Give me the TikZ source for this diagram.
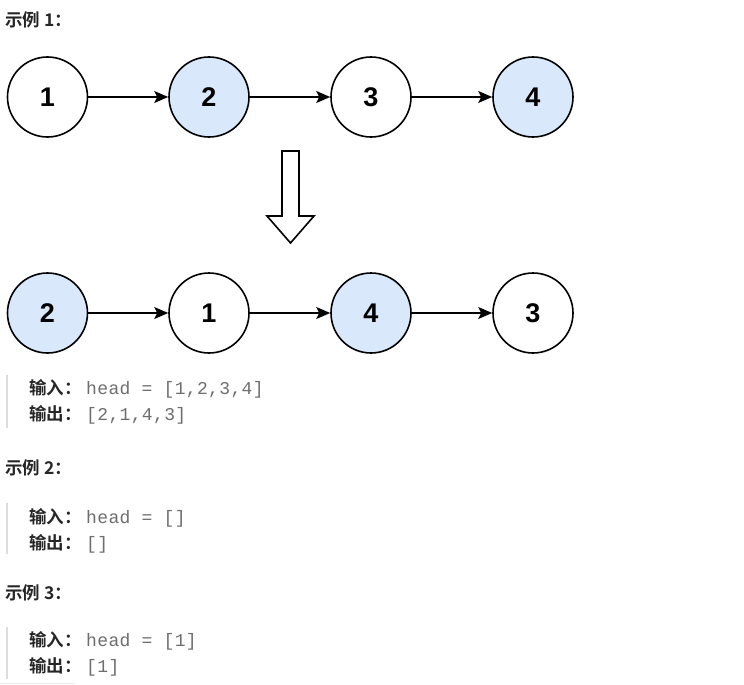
\documentclass[tikz,border=0pt]{standalone}
\usepackage{fontspec}
\setmainfont{Liberation Sans}
\newfontfamily\cjk{Noto Sans CJK SC Bold}
\newfontfamily\monof{Liberation Mono}[LetterSpace=2]
\usetikzlibrary{arrows.meta}
\definecolor{nodeblue}{HTML}{DAE8FC}
\definecolor{txtdark}{HTML}{262626}
\definecolor{codegray}{HTML}{6E6E6E}
\definecolor{bargray}{HTML}{DDDDDD}
\tikzset{
  lnode/.style={circle, draw=black, line width=1.6pt, minimum size=80pt, inner sep=0pt,
    font=\fontsize{27}{30}\selectfont\bfseries},
  bnode/.style={lnode, fill=nodeblue},
  wnode/.style={lnode, fill=white},
  link/.style={line width=1.6pt, -{Stealth[length=14pt,width=12pt,inset=3pt]}},
  head/.style={anchor=mid west, inner sep=0pt, text=txtdark, font=\cjk\fontsize{17.5}{20}\selectfont},
  lbl/.style={anchor=mid west, inner sep=0pt, text=txtdark, font=\cjk\fontsize{17.5}{20}\selectfont},
  code/.style={anchor=mid west, inner sep=0pt, text=codegray, font=\monof\fontsize{18}{20}\selectfont},
  qbar/.style={draw=bargray, line width=2pt}
}
\begin{document}
\begin{tikzpicture}[x=1pt,y=-1pt]
\useasboundingbox (0,0) rectangle (744,685);
\fill[white] (0,0) rectangle (744,685);

\node[head] (h1) at (5,23.5) {示例 1：};

% row 1
\node[wnode] (a1) at (47.5,97) {1};
\node[bnode] (a2) at (209,97) {2};
\node[wnode] (a3) at (371,97) {3};
\node[bnode] (a4) at (533,97) {4};
\draw[link] (a1) -- (a2);
\draw[link] (a2) -- (a3);
\draw[link] (a3) -- (a4);

% block arrow
\draw[line width=1.6pt, fill=white, line join=miter]
  (282,151) -- (299,151) -- (299,216) -- (314,216) -- (290.5,243) -- (267,216) -- (282,216) -- cycle;

% row 2
\node[bnode] (b1) at (47.5,313) {2};
\node[wnode] (b2) at (209,313) {1};
\node[bnode] (b3) at (371,313) {4};
\node[wnode] (b4) at (533,313) {3};
\draw[link] (b1) -- (b2);
\draw[link] (b2) -- (b3);
\draw[link] (b3) -- (b4);

% example 1 text
\coordinate (q1t) at (7,375);
\coordinate (q1b) at (7,428);
\draw[qbar] (q1t) -- (q1b);
\node[lbl] (i1) at (29,392) {输入：};
\node[code] (c1) at (86,392) {head = [1,2,3,4]};
\node[lbl] (o1) at (29,418) {输出：};
\node[code] (d1) at (86,418) {[2,1,4,3]};

% example 2
\node[head] (h2) at (5,471.5) {示例 2：};
\coordinate (q2t) at (7,503);
\coordinate (q2b) at (7,554);
\draw[qbar] (q2t) -- (q2b);
\node[lbl] (i2) at (29,521) {输入：};
\node[code] (c2) at (86,521) {head = []};
\node[lbl] (o2) at (29,547) {输出：};
\node[code] (d2) at (86,547) {[]};

% example 3
\node[head] (h3) at (5,596.5) {示例 3：};
\coordinate (q3t) at (7,627);
\coordinate (q3b) at (7,679);
\draw[qbar] (q3t) -- (q3b);
\node[lbl] (i3) at (29,644) {输入：};
\node[code] (c3) at (86,644) {head = [1]};
\node[lbl] (o3) at (29,670) {输出：};
\node[code] (d3) at (86,670) {[1]};

% bottom scroll line
\coordinate (s1) at (0,683.5);
\coordinate (s2) at (74,683.5);
\draw[draw=bargray!60, line width=1.5pt, line cap=round] (s1) -- (s2);
\end{tikzpicture}
\end{document}
